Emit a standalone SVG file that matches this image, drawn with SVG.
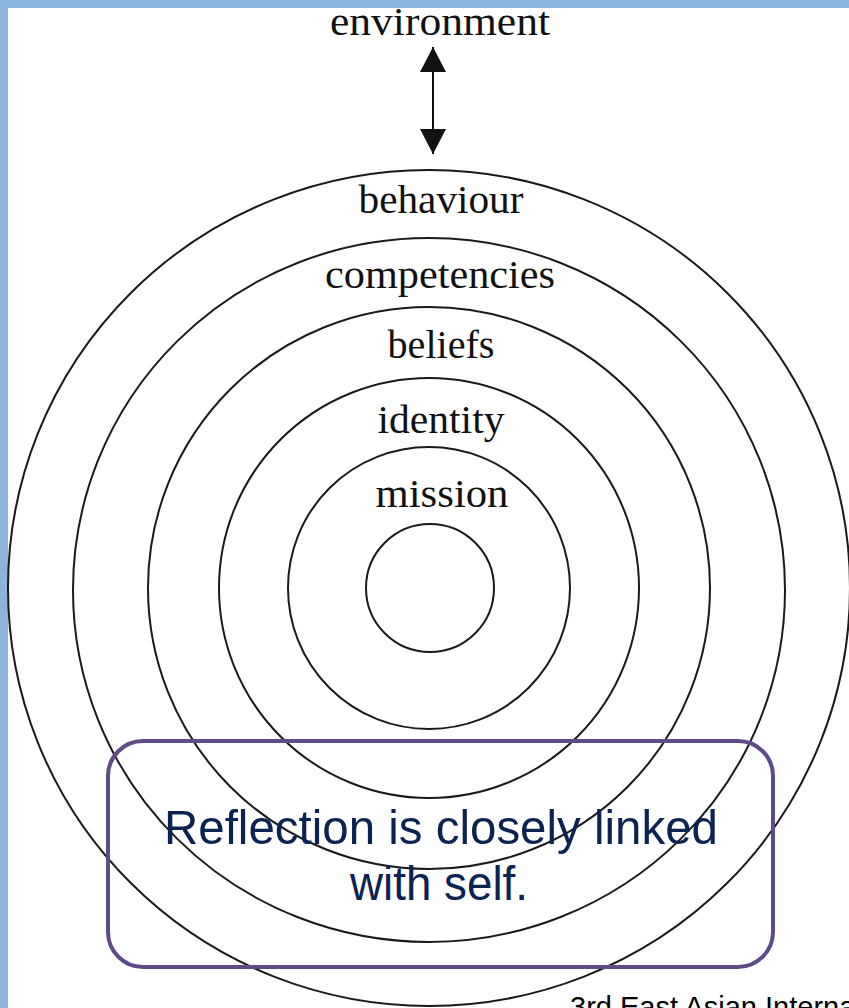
<svg xmlns="http://www.w3.org/2000/svg" width="849" height="1008" viewBox="0 0 849 1008">
  <style>
    .ring { fill: none; stroke: #1a1a1a; stroke-width: 2; }
    .lbl { font-family: "Liberation Serif", "DejaVu Serif", serif; font-size: 40px; fill: #111; text-anchor: middle; }
    .note { font-family: "Liberation Sans", Arial, sans-serif; font-size: 49px; fill: #0c2250; text-anchor: middle; }
    .foot { font-family: "Liberation Sans", Arial, sans-serif; font-size: 29px; fill: #000; }
  </style>
  <defs>
    <marker id="head" viewBox="0 0 25 26" refX="25" refY="13" markerWidth="25" markerHeight="26" markerUnits="userSpaceOnUse" orient="auto-start-reverse">
      <path d="M0,0 L25,13 L0,26 Z" fill="#111"/>
    </marker>
  </defs>
  <rect x="0" y="0" width="849" height="1008" fill="#8ab4db"/>
  <rect x="8" y="8" width="841" height="1000" fill="#ffffff"/>

  <g id="ring-behaviour"><ellipse class="ring" cx="429" cy="588" rx="421" ry="418"/></g>
  <g id="ring-competencies"><ellipse class="ring" cx="429" cy="590" rx="356" ry="352"/></g>
  <g id="ring-beliefs"><circle class="ring" cx="429" cy="588" r="281"/></g>
  <g id="ring-identity"><circle class="ring" cx="429" cy="588" r="210"/></g>
  <g id="ring-mission"><circle class="ring" cx="429" cy="588" r="141"/></g>
  <g id="ring-self"><circle class="ring" cx="430" cy="588" r="64"/></g>

  <g id="connectors">
    <line x1="433" y1="47" x2="433" y2="154" stroke="#111" stroke-width="2" marker-start="url(#head)" marker-end="url(#head)"/>
  </g>

  <g id="node-environment"><text class="lbl" x="440" y="35" textLength="220" lengthAdjust="spacingAndGlyphs">environment</text></g>
  <g id="node-behaviour"><text class="lbl" x="441" y="213" textLength="165" lengthAdjust="spacingAndGlyphs">behaviour</text></g>
  <g id="node-competencies"><text class="lbl" x="440" y="288" textLength="230" lengthAdjust="spacingAndGlyphs">competencies</text></g>
  <g id="node-beliefs"><text class="lbl" x="441" y="358" textLength="107" lengthAdjust="spacingAndGlyphs">beliefs</text></g>
  <g id="node-identity"><text class="lbl" x="441" y="433" textLength="127" lengthAdjust="spacingAndGlyphs">identity</text></g>
  <g id="node-mission"><text class="lbl" x="442" y="507" textLength="133" lengthAdjust="spacingAndGlyphs">mission</text></g>

  <g id="node-note">
    <rect x="108" y="741" width="665" height="226" rx="35" ry="35" fill="none" stroke="#5e4b87" stroke-width="4"/>
    <text class="note" x="441" y="844" textLength="554" lengthAdjust="spacingAndGlyphs">Reflection is closely linked</text>
    <text class="note" x="439" y="900" textLength="178" lengthAdjust="spacingAndGlyphs">with self.</text>
  </g>

  <g id="footer"><text class="foot" x="570" y="1017">3rd East Asian International</text></g>
</svg>
